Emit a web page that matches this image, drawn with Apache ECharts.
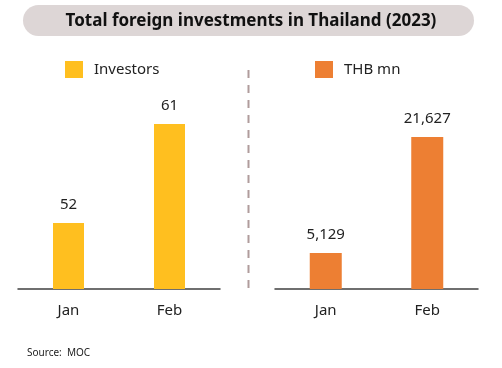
<!DOCTYPE html>
<html><head><meta charset="utf-8">
<script src="https://cdn.jsdelivr.net/npm/echarts@6/dist/echarts.min.js"></script>
<style>html,body{margin:0;padding:0;background:#fff}#c{width:502px;height:368px}</style>
</head><body><div id="c"></div>
<script>
const categories = ['Jan', 'Feb'];
const investors = [52, 61];
const thbMn = [5129, 21627];
const titleText = 'Total foreign investments in Thailand (2023)';
const sourceText = 'Source:  MOC';

const chart = echarts.init(document.getElementById('c'), null, {renderer: 'canvas'});
const font = 'Noto Sans';
const fmt = v => v.toLocaleString('en-US');
chart.setOption({
  backgroundColor: '#fff',
  animation: false,
  textStyle: {fontFamily: font},
  title: {
    text: titleText, left: 'center', top: 8,
    textStyle: {fontFamily: font, fontSize: 17, fontWeight: 'bold', color: '#111'}
  },
  graphic: [
    {type: 'rect', z: -10, shape: {x: 23, y: 5, width: 451, height: 31, r: 15.5}, style: {fill: '#DDD6D6'}},
    {type: 'line', shape: {x1: 248.5, y1: 70, x2: 248.5, y2: 290}, style: {stroke: '#B09C9C', lineWidth: 2, lineDash: [8, 7]}},
    {type: 'text', left: 27, top: 348, style: {text: sourceText, fontFamily: font, fontSize: 10, fill: '#222'}}
  ],
  legend: [
    {left: 60, top: 56, itemWidth: 18, itemHeight: 17, itemGap: 10, icon: 'rect', data: ['Investors'],
     textStyle: {fontSize: 15, color: '#222', padding: [0, 0, 0, 6]}},
    {left: 310, top: 56, itemWidth: 18, itemHeight: 17, itemGap: 10, icon: 'rect', data: ['THB mn'],
     textStyle: {fontSize: 15, color: '#222', padding: [0, 0, 0, 6]}}
  ],
  grid: [
    {left: 18, top: 80, width: 202, height: 209},
    {left: 275, top: 80, width: 203, height: 209}
  ],
  xAxis: [0, 1].map(i => ({
    type: 'category', gridIndex: i, data: categories,
    axisLine: {lineStyle: {color: '#404040', width: 1.5}},
    axisTick: {show: false},
    axisLabel: {fontSize: 15, color: '#222', margin: 14}
  })),
  yAxis: [
    {type: 'value', gridIndex: 0, min: 46, max: 65, show: false},
    {type: 'value', gridIndex: 1, min: 0, max: 29740, show: false}
  ],
  series: [
    {name: 'Investors', type: 'bar', xAxisIndex: 0, yAxisIndex: 0, data: investors, barWidth: 31,
     itemStyle: {color: '#FFBF1F'},
     label: {show: true, position: 'top', distance: 11, fontSize: 15, color: '#222', formatter: p => fmt(p.value)}},
    {name: 'THB mn', type: 'bar', xAxisIndex: 1, yAxisIndex: 1, data: thbMn, barWidth: 32,
     itemStyle: {color: '#ED7F33'},
     label: {show: true, position: 'top', distance: 11, fontSize: 15, color: '#222', formatter: p => fmt(p.value)}}
  ]
});
</script></body></html>
